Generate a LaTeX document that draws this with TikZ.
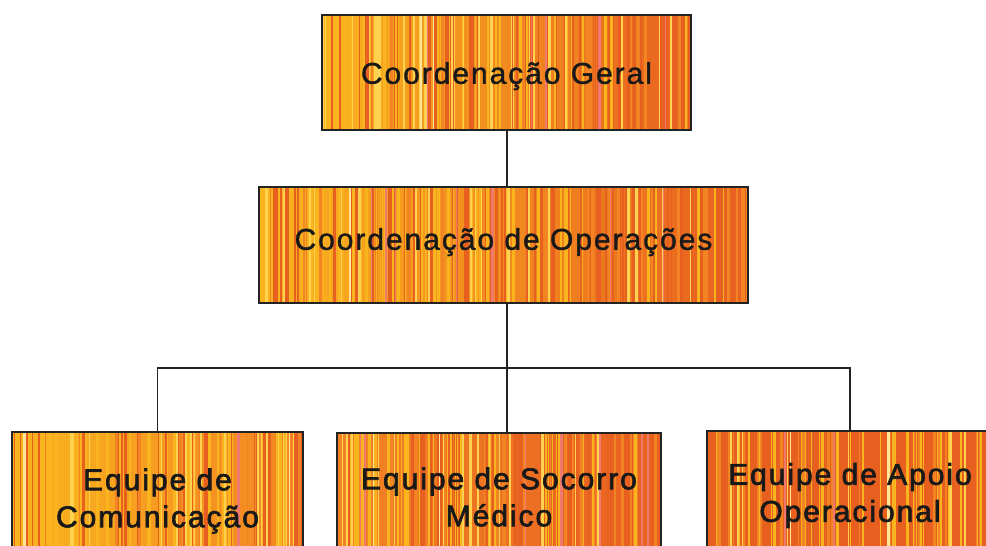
\documentclass[tikz,border=0pt]{standalone}
\usepackage{fontspec}
\newfontfamily\boxfont{Liberation Sans}[LetterSpace=6.5,FakeBold=1.3]
\newfontfamily\boxfontb{Liberation Sans}[LetterSpace=6.5,FakeBold=2.2]
\definecolor{syl}{RGB}{255,210,80}
\definecolor{sy}{RGB}{250,180,30}
\definecolor{so}{RGB}{232,96,32}
\definecolor{sp}{RGB}{240,122,112}
\definecolor{sw}{RGB}{255,230,150}
\definecolor{sor}{RGB}{242,132,36}
\definecolor{linec}{RGB}{35,35,35}
\newcommand\stripebox[8]{%
  \begin{scope}
    \clip (#1,#2) rectangle (#3,#4);
    \shade[left color=#7,right color=#8] (#1,#2) rectangle (#3,#4);
    \pgfmathtruncatemacro\stn{(#3-#1)/2.0}
    \foreach \sti in {1,...,\stn}{
      \pgfmathsetmacro\stx{#1+rnd*(#3-#1)}
      \pgfmathsetmacro\stw{0.6+2.6*rnd}
      \pgfmathsetmacro\stp{#5+(#6-#5)*(\stx-#1)/(#3-#1)}
      \pgfmathsetmacro\stra{rnd}
      \pgfmathsetmacro\strb{rnd}
      \pgfmathtruncatemacro\stc{\stra<\stp ? (\strb<0.3 ? 1 : (\strb<0.95 ? 2 : 5)) : (\strb<0.62 ? 3 : (\strb<0.94 ? 6 : 4))}
      \ifcase\stc\or\def\stcol{syl}\or\def\stcol{sy}\or\def\stcol{so}\or\def\stcol{sp}\or\def\stcol{sw}\or\def\stcol{sor}\fi
      \fill[\stcol] (\stx,#2) rectangle ++(\stw,#4-#2);
    }
  \end{scope}}
\tikzset{
  box/.style={draw=linec, line width=1.7pt, align=center, inner sep=0pt,
    text=black!90, font=\boxfont\fontsize{30}{37}\selectfont},
  teambox/.style={box, font=\boxfontb\fontsize{30}{37}\selectfont},
  conn/.style={draw=linec, line width=1.7pt}
}
\begin{document}
\begin{tikzpicture}[x=1pt,y=-1pt]
\useasboundingbox (0,0) rectangle (986,546);
\clip (0,0) rectangle (986,546);
\fill[white] (0,0) rectangle (986,546);
\pgfmathsetseed{11}
% stripe fills
\stripebox{322}{15}{691}{130}{0.72}{0.18}{sy}{so}
\stripebox{259}{187}{748}{303}{0.72}{0.18}{sy}{so}
\stripebox{12}{432}{303}{570}{0.72}{0.5}{sy}{sor}
\stripebox{337}{433}{661}{570}{0.6}{0.28}{sor}{so}
\stripebox{707}{431}{993}{570}{0.38}{0.25}{so}{so}
% boxes
\node[box, minimum width=369pt, minimum height=115pt, text height=24pt, text depth=1.5pt] (top) at (506.5,72.5) {Coordenação Geral};
\node[box, minimum width=489pt, minimum height=116pt, text height=14pt, text depth=4.5pt] (mid) at (503.5,245) {Coordenação de Operações};
\node[teambox, minimum width=291pt, minimum height=138pt] (bl) at (157.5,501) {Equipe de\\Comunicação};
\node[teambox, minimum width=324pt, minimum height=128pt] (bm) at (499,497) {Equipe de Socorro\\Médico};
\node[teambox, minimum width=286pt, minimum height=129pt] (br) at (850,495.5) {Equipe de Apoio\\Operacional};
% connectors
\coordinate (bus) at (507,368);
\draw[conn] (top.south -| bus) -- (mid.north -| bus);
\draw[conn] (mid.south -| bus) -- (bm.north -| bus);
\draw[conn] (bl.north) |- (bus) -| (br.north);
\end{tikzpicture}
\end{document}
